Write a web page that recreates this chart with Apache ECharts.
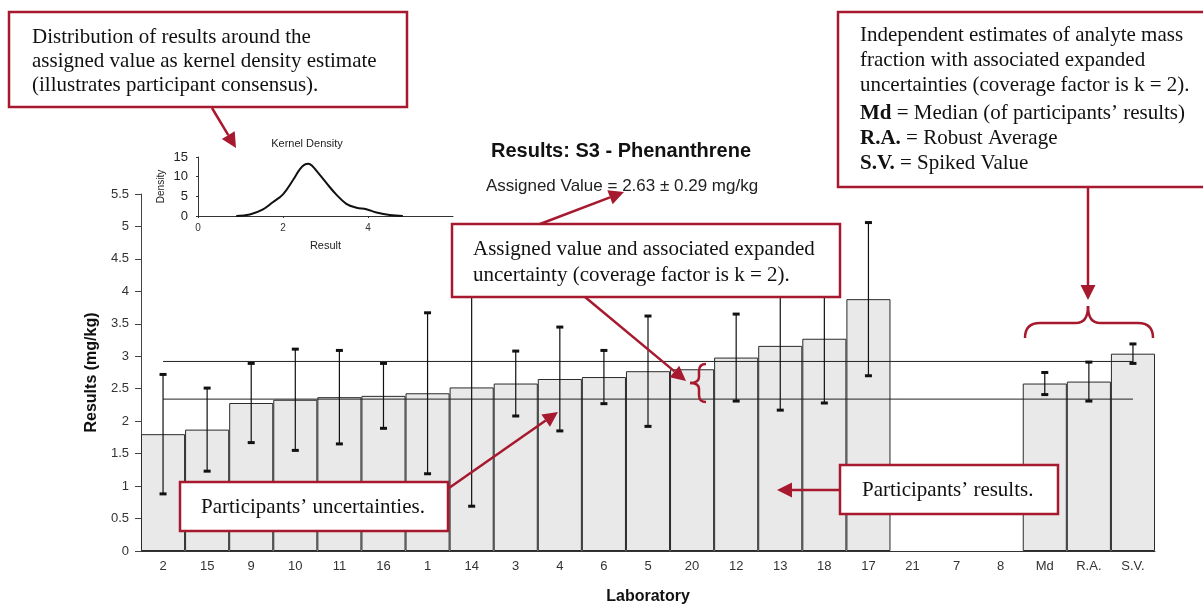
<!DOCTYPE html>
<html>
<head>
<meta charset="utf-8">
<title>Results: S3 - Phenanthrene</title>
<script src="https://cdn.jsdelivr.net/npm/echarts@6/dist/echarts.min.js"></script>
<style>
  html, body { margin: 0; padding: 0; background: #fff; }
  #chart { width: 1203px; height: 604px; }
</style>
</head>
<body>
<div id="chart"></div>
<script>
// Laboratory codes, sorted by reported result, followed by the consensus estimates
var labs = ['2','15','9','10','11','16','1','14','3','4','6','5','20','12','13','18','17','21','7','8','Md','R.A.','S.V.'];
// Reported results (mg/kg); labs 21, 7 and 8 reported none
var results = [1.80,1.87,2.28,2.33,2.37,2.39,2.43,2.52,2.58,2.65,2.68,2.77,2.80,2.98,3.16,3.27,3.88,null,null,null,2.58,2.61,3.04];
// Expanded uncertainties (mg/kg) reported with each result
var uncert = [0.92,0.64,0.61,0.78,0.72,0.50,1.24,1.83,0.50,0.80,0.41,0.85,null,0.67,0.99,0.99,1.18,null,null,null,0.17,0.30,0.15];

// Assigned value and its expanded uncertainty (k = 2)
var assignedValue = 2.63;
var assignedU = 0.29;

// Kernel density estimate of the participants' results
var densX = [0.9,1.22,1.53,1.76,2.0,2.24,2.39,2.5,2.6,2.7,2.78,3.02,3.25,3.49,3.73,3.96,4.2,4.51,4.82];
var densY = [0,0.4,1.7,3.5,5.5,9.2,11.8,13.0,13.3,12.6,11.6,8.4,5.5,3.1,2.1,1.7,0.9,0.24,0];

var yTicks = { min: 0, max: 5.5, interval: 0.5 };

var RED = '#a6192e';
var SERIF = '"Liberation Serif", "Times New Roman", serif';
var SANS = '"Liberation Sans", Arial, sans-serif';

var errData = [];
for (var i = 0; i < labs.length; i++) {
  if (results[i] != null && uncert[i] != null) {
    errData.push([i, results[i] - uncert[i], results[i] + uncert[i]]);
  }
}
var densData = densX.map(function (x, k) { return [x, densY[k]]; });

var upper = +(assignedValue + assignedU).toFixed(2);
var lower = +(assignedValue - assignedU).toFixed(2);
var firstLab = labs[0], lastLab = labs[labs.length - 1];

// annotation helpers
function box(x, y, w, h) {
  return { type: 'rect', shape: { x: x, y: y, width: w, height: h },
           style: { fill: '#fff', stroke: RED, lineWidth: 2.5 }, z: 100 };
}
function note(x, y, text, extra) {
  var st = { x: x, y: y, text: text, font: '21px ' + SERIF, fill: '#111',
             lineHeight: 24, verticalAlign: 'top' };
  if (extra) for (var k in extra) st[k] = extra[k];
  return { type: 'text', style: st, z: 101 };
}
function arrow(x1, y1, x2, y2) {
  var a = Math.atan2(y2 - y1, x2 - x1), L = 15, W = 7.5;
  var bx = x2 - L * Math.cos(a), by = y2 - L * Math.sin(a);
  var px = -Math.sin(a) * W, py = Math.cos(a) * W;
  return { type: 'group', z: 102, children: [
    { type: 'line', shape: { x1: x1, y1: y1, x2: bx, y2: by },
      style: { stroke: RED, lineWidth: 2.5 }, z: 102 },
    { type: 'polygon', shape: { points: [[x2, y2], [bx + px, by + py], [bx - px, by - py]] },
      style: { fill: RED }, z: 102 }
  ]};
}
function seg(x1, y1, x2, y2) {
  return { type: 'line', shape: { x1: x1, y1: y1, x2: x2, y2: y2 },
           style: { stroke: RED, lineWidth: 2.5, fill: null }, z: 102 };
}
function quad(x1, y1, cx, cy, x2, y2) {
  return { type: 'bezierCurve', shape: { x1: x1, y1: y1, cpx1: cx, cpy1: cy, x2: x2, y2: y2 },
           style: { stroke: RED, lineWidth: 2.5, fill: null }, z: 102 };
}

var chart = echarts.init(document.getElementById('chart'));
chart.setOption({
  backgroundColor: '#fff',
  animation: false,
  textStyle: { fontFamily: SANS },
  title: [
    { text: 'Results: S3 - Phenanthrene', left: 616, top: 136, textAlign: 'center',
      textStyle: { fontSize: 20, fontWeight: 'bold', color: '#111', fontFamily: SANS } },
    { text: 'Assigned Value = ' + assignedValue.toFixed(2) + ' \u00b1 ' + assignedU.toFixed(2) + ' mg/kg',
      left: 617, top: 173, textAlign: 'center',
      textStyle: { fontSize: 17, fontWeight: 'normal', color: '#222', fontFamily: SANS } },
    { text: 'Kernel Density', left: 302, top: 133, textAlign: 'center',
      textStyle: { fontSize: 11, fontWeight: 'normal', color: '#222', fontFamily: SANS } }
  ],
  grid: [
    { left: 141, right: 48, top: 194, bottom: 53, outerBoundsMode: 'none', containLabel: false },
    { left: 198, width: 255, top: 157, height: 59, outerBoundsMode: 'none', containLabel: false }
  ],
  xAxis: [
    { type: 'category', data: labs, gridIndex: 0,
      name: 'Laboratory', nameLocation: 'middle', nameGap: 38,
      nameTextStyle: { fontSize: 16, fontWeight: 'bold', color: '#111' },
      axisLine: { lineStyle: { color: '#333', width: 1 } },
      axisTick: { alignWithLabel: false, length: 6, lineStyle: { color: '#333' } },
      axisLabel: { fontSize: 13, color: '#333', margin: 9, interval: 0 },
      splitLine: { show: false } },
    { type: 'value', gridIndex: 1, min: 0, max: 6, interval: 2,
      name: 'Result', nameLocation: 'middle', nameGap: 24,
      nameTextStyle: { fontSize: 11, color: '#222' },
      axisLine: { onZero: false, lineStyle: { color: '#333' } },
      axisTick: { length: 2, lineStyle: { color: '#333' } },
      axisLabel: { fontSize: 10, color: '#333', margin: 7, showMaxLabel: false },
      splitLine: { show: false } }
  ],
  yAxis: [
    { type: 'value', gridIndex: 0, min: yTicks.min, max: yTicks.max, interval: yTicks.interval,
      name: 'Results (mg/kg)', nameLocation: 'middle', nameGap: 40, nameRotate: 90,
      nameTextStyle: { fontSize: 16, fontWeight: 'bold', color: '#111' },
      axisLine: { show: true, lineStyle: { color: '#444', width: 1 } },
      axisTick: { show: true, length: 6, lineStyle: { color: '#444' } },
      axisLabel: { fontSize: 13, color: '#333', margin: 12 },
      splitLine: { show: false } },
    { type: 'value', gridIndex: 1, min: 0, max: 15, interval: 5,
      name: 'Density', nameLocation: 'middle', nameGap: 32, nameRotate: 90,
      nameTextStyle: { fontSize: 10, color: '#222' },
      axisLine: { show: true, lineStyle: { color: '#333' } },
      axisTick: { show: true, length: 2, lineStyle: { color: '#333' } },
      axisLabel: { fontSize: 13, color: '#222', margin: 10 },
      splitLine: { show: false } }
  ],
  series: [
    { type: 'bar', xAxisIndex: 0, yAxisIndex: 0, data: results,
      barWidth: '100%', barCategoryGap: 0,
      itemStyle: { color: '#e9e9e9', borderColor: '#2a2a2a', borderWidth: 1 }, z: 2 },
    { type: 'line', xAxisIndex: 0, yAxisIndex: 0,
      data: [[firstLab, upper], [lastLab, upper]], symbol: 'none',
      lineStyle: { color: '#222', width: 1 }, z: 3 },
    { type: 'line', xAxisIndex: 0, yAxisIndex: 0,
      data: [[firstLab, lower], [lastLab, lower]], symbol: 'none',
      lineStyle: { color: '#222', width: 1 }, z: 3 },
    { type: 'custom', xAxisIndex: 0, yAxisIndex: 0, data: errData, z: 4,
      renderItem: function (params, api) {
        var x = api.value(0);
        var top = api.coord([x, api.value(2)]);
        var bot = api.coord([x, api.value(1)]);
        return { type: 'group', children: [
          { type: 'line', shape: { x1: top[0], y1: top[1], x2: bot[0], y2: bot[1] },
            style: { stroke: '#111', lineWidth: 1.2 } },
          { type: 'rect', shape: { x: top[0] - 3.5, y: top[1] - 1.5, width: 7, height: 3 },
            style: { fill: '#111' } },
          { type: 'rect', shape: { x: bot[0] - 3.5, y: bot[1] - 1.5, width: 7, height: 3 },
            style: { fill: '#111' } }
        ]};
      } },
    { type: 'line', xAxisIndex: 1, yAxisIndex: 1, data: densData,
      smooth: 0.4, symbol: 'none', lineStyle: { color: '#111', width: 2 }, z: 5 }
  ],
  graphic: [
    // kernel density note
    box(9, 12, 398, 95),
    note(32, 25, 'Distribution of results around the\nassigned value as kernel density estimate\n(illustrates participant consensus).'),
    arrow(212, 108, 236, 148),

    // consensus estimates note
    box(838, 12, 380, 175),
    note(860, 23, 'Independent estimates of analyte mass\nfraction with associated expanded\nuncertainties (coverage factor is k = 2).', { lineHeight: 25 }),
    { type: 'text', z: 101, style: {
        x: 860, y: 101, font: '21px ' + SERIF, fill: '#111', lineHeight: 25, verticalAlign: 'top',
        text: '{b|Md} = Median (of participants\u2019 results)\n{b|R.A.} = Robust Average\n{b|S.V.} = Spiked Value',
        rich: { b: { fontWeight: 'bold', fontFamily: SERIF, fontSize: 21 } } } },
    arrow(1088, 188, 1088, 300),
    // brace over the consensus estimates
    { type: 'group', z: 102, children: [
      quad(1025, 338, 1025, 323, 1040, 323), seg(1040, 323, 1076, 323),
      quad(1076, 323, 1088, 323, 1088, 306), quad(1088, 306, 1088, 323, 1100, 323),
      seg(1100, 323, 1138, 323), quad(1138, 323, 1153, 323, 1153, 338)
    ]},

    // assigned value note
    box(452, 224, 388, 73),
    note(473, 236, 'Assigned value and associated expanded\nuncertainty (coverage factor is k = 2).', { lineHeight: 26 }),
    arrow(540, 224, 624, 192),
    arrow(585, 297, 686, 381),
    // brace spanning the assigned value's uncertainty
    { type: 'group', z: 102, children: [
      quad(706, 364, 699, 364, 699, 371), seg(699, 371, 699, 377),
      quad(699, 377, 699, 383, 690, 383), quad(690, 383, 699, 383, 699, 389),
      seg(699, 389, 699, 395), quad(699, 395, 699, 402, 706, 402)
    ]},

    // participants' uncertainties note
    box(180, 482, 268, 49),
    note(201, 495, 'Participants\u2019 uncertainties.'),
    arrow(449, 488, 558, 412),

    // participants' results note
    box(840, 465, 218, 49),
    note(862, 478, 'Participants\u2019 results.'),
    arrow(840, 490, 777, 490)
  ]
});
</script>
</body>
</html>
